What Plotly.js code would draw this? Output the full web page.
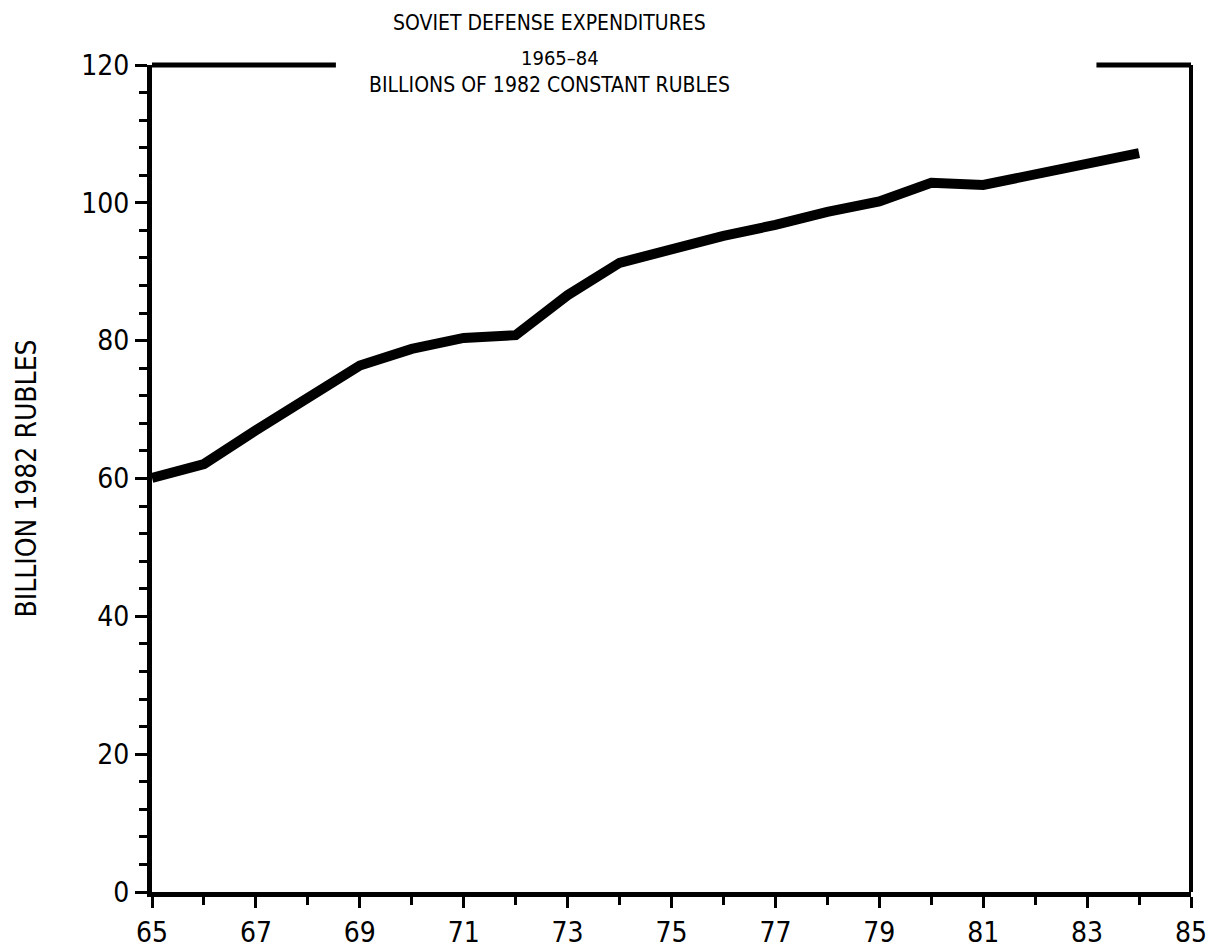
<!DOCTYPE html>
<html>
<head>
<meta charset="utf-8">
<script src="https://cdn.plot.ly/plotly-3.0.1.min.js"></script>
<style>html,body{margin:0;padding:0;background:#fff;}#chart{width:1217px;height:951px;}</style>
</head>
<body>
<div id="chart"></div>
<script>
// Data
const years = [65,66,67,68,69,70,71,72,73,74,75,76,77,78,79,80,81,82,83,84];
const defenseSpending = [60.1,62.1,67.0,71.7,76.4,78.8,80.4,80.8,86.6,91.3,93.4,95.2,96.8,98.7,100.2,102.9,102.6,104.2,105.8,107.2];
const xTickVals = [65,67,69,71,73,75,77,79,81,83,85];
const xTickText = ["65","67","69","71","73","75","77","79","81","83","85"];
const yTickVals = [0,20,40,60,80,100,120];
const yTickText = ["0","20","40","60","80","100","120"];
const titleLines = ["SOVIET DEFENSE EXPENDITURES","1965\u201384","BILLIONS OF 1982 CONSTANT RUBLES"];
const yTitle = "BILLION 1982 RUBLES";

const FONT = "'DejaVu Sans Condensed', 'Liberation Sans Narrow', 'DejaVu Sans', sans-serif";

const trace = {
  x: years, y: defenseSpending, type: 'scatter', mode: 'lines',
  line: {color: '#000', width: 10, shape: 'linear'},
  hoverinfo: 'skip'
};

const layout = {
  width: 1217, height: 951,
  margin: {l: 152, r: 26, t: 65, b: 59},
  paper_bgcolor: '#fff', plot_bgcolor: '#fff',
  showlegend: false,
  xaxis: {
    range: [65, 85], showgrid: false, zeroline: false,
    showline: true, linecolor: '#000', linewidth: 5,
    tickmode: 'array', tickvals: xTickVals, ticktext: xTickText,
    ticks: 'outside', ticklen: 11, tickwidth: 3, tickcolor: '#000',
    minor: {dtick: 1, tick0: 65, ticks: 'outside', ticklen: 8, tickwidth: 3, tickcolor: '#000', showgrid: false},
    tickfont: {family: FONT, size: 28, color: '#000'},
    fixedrange: true
  },
  yaxis: {
    range: [0, 120], showgrid: false, zeroline: false,
    showline: true, linecolor: '#000', linewidth: 5,
    tickmode: 'array', tickvals: yTickVals, ticktext: yTickText,
    ticks: 'outside', ticklen: 12, tickwidth: 3, tickcolor: '#000',
    minor: {dtick: 4, tick0: 0, ticks: 'outside', ticklen: 8, tickwidth: 3, tickcolor: '#000', showgrid: false},
    tickfont: {family: FONT, size: 28, color: '#000'},
    title: {text: yTitle, font: {family: FONT, size: 28, color: '#000'}, standoff: 38},
    fixedrange: true
  },
  shapes: [
    {type: 'line', xref: 'paper', yref: 'paper', x0: 1, x1: 1, y0: 0, y1: 1, line: {color: '#000', width: 4}},
    {type: 'line', xref: 'paper', yref: 'paper', x0: 0, x1: 0.177, y0: 1, y1: 1, line: {color: '#000', width: 5}},
    {type: 'line', xref: 'paper', yref: 'paper', x0: 0.909, x1: 1, y0: 1, y1: 1, line: {color: '#000', width: 5}}
  ],
  annotations: [
    {text: titleLines[0], xref: 'paper', yref: 'paper', x: 0.383, y: 1, yshift: 42, xanchor: 'center', yanchor: 'middle', showarrow: false, font: {family: FONT, size: 21, color: '#000'}},
    {text: titleLines[1], xref: 'paper', yref: 'paper', x: 0.393, y: 1, yshift: 7, xanchor: 'center', yanchor: 'middle', showarrow: false, font: {family: FONT, size: 20, color: '#000'}},
    {text: titleLines[2], xref: 'paper', yref: 'paper', x: 0.383, y: 1, yshift: -20, xanchor: 'center', yanchor: 'middle', showarrow: false, font: {family: FONT, size: 21, color: '#000'}}
  ]
};

Plotly.newPlot('chart', [trace], layout, {displayModeBar: false, staticPlot: true});
</script>
</body>
</html>
